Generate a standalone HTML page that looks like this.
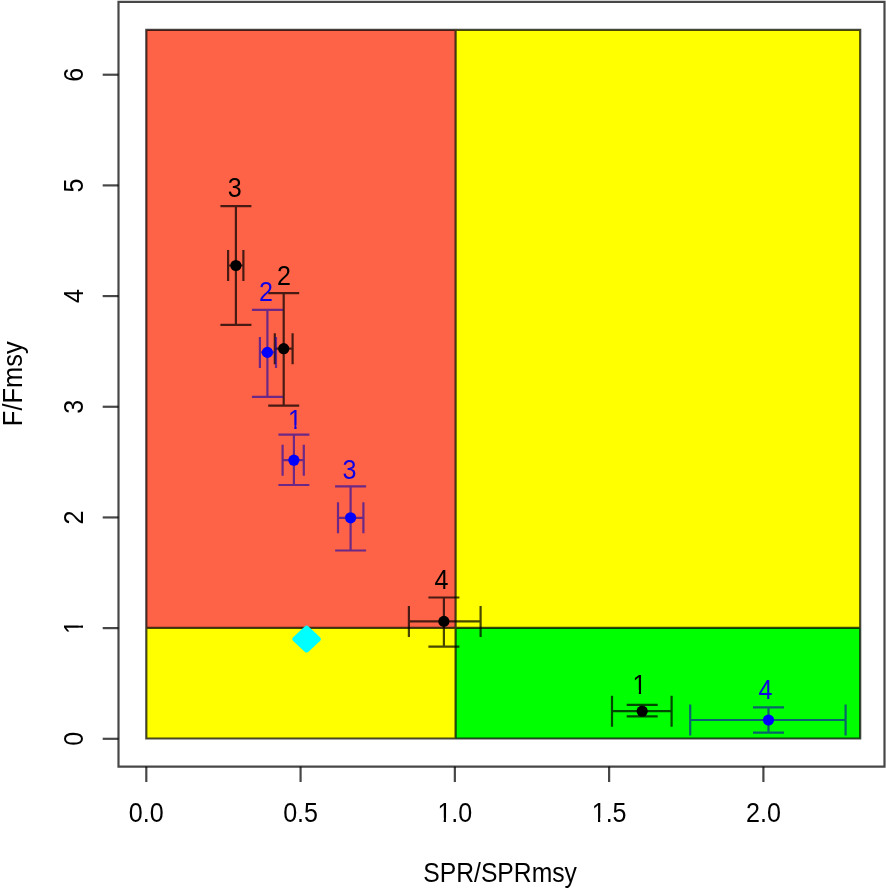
<!DOCTYPE html>
<html><head><meta charset="utf-8"><title>Kobe plot</title>
<style>
html,body{margin:0;padding:0;background:#fff;width:886px;height:888px;overflow:hidden}
svg{display:block}
text{font-family:"Liberation Sans", Arial, sans-serif;font-size:27px}
</style></head><body>
<svg width="886" height="888" viewBox="0 0 886 888">
<defs><clipPath id="c1" clipPathUnits="userSpaceOnUse"><rect x="-60" y="-60" width="120" height="56"/><rect x="-60" y="-5" width="53.28" height="30"/><rect x="7.39" y="-5" width="52.61" height="30"/><rect x="-0.72" y="-5" width="2.39" height="8"/></clipPath><clipPath id="c1x" clipPathUnits="userSpaceOnUse"><rect x="-60" y="-60" width="120" height="56"/><rect x="-60" y="-5" width="42.02" height="30"/><rect x="-3.87" y="-5" width="63.87" height="30"/><rect x="-11.98" y="-5" width="2.39" height="8"/></clipPath></defs>
<rect x="146.3" y="29.8" width="309.30" height="598.00" fill="#FF6347"/>
<rect x="455.6" y="29.8" width="404.60" height="598.00" fill="#FFFF00"/>
<rect x="146.3" y="627.8" width="309.30" height="110.70" fill="#FFFF00"/>
<rect x="455.6" y="627.8" width="404.60" height="110.70" fill="#00FF00"/>
<path d="M146.3 29.8H860.2V738.5H146.3ZM455.6 29.8V738.5M146.3 627.8H860.2" fill="none" stroke="#000" stroke-opacity="0.72" stroke-width="2.2"/>
<path d="M235.9 206.2V324.8M220.4 206.2H251.4M220.4 324.8H251.4M228.1 265.5H243.4M228.1 250.0V281.0M243.4 250.0V281.0" stroke="#000" stroke-opacity="0.72" stroke-width="2.2" fill="none"/>
<circle cx="235.9" cy="265.5" r="5.6" fill="#000"/>
<path d="M283.7 293.2V405.7M268.2 293.2H299.2M268.2 405.7H299.2M274.8 348.7H292.6M274.8 333.2V364.2M292.6 333.2V364.2" stroke="#000" stroke-opacity="0.72" stroke-width="2.2" fill="none"/>
<circle cx="283.7" cy="348.7" r="5.6" fill="#000"/>
<path d="M443.9 597.5V646.6M428.4 597.5H459.4M428.4 646.6H459.4M408.9 621.4H480.6M408.9 605.9V636.9M480.6 605.9V636.9" stroke="#000" stroke-opacity="0.72" stroke-width="2.2" fill="none"/>
<circle cx="443.9" cy="621.4" r="5.6" fill="#000"/>
<path d="M642.2 704.8V716.3M626.7 704.8H657.7M626.7 716.3H657.7M612.0 711.2H671.6M612.0 695.7V726.7M671.6 695.7V726.7" stroke="#000" stroke-opacity="0.72" stroke-width="2.2" fill="none"/>
<circle cx="642.2" cy="711.2" r="5.6" fill="#000"/>
<path d="M267.4 309.8V396.9M251.89999999999998 309.8H282.9M251.89999999999998 396.9H282.9M259.9 352.4H276.0M259.9 336.9V367.9M276.0 336.9V367.9" stroke="#1005ad" stroke-opacity="0.62" stroke-width="2.2" fill="none"/>
<circle cx="267.4" cy="352.4" r="5.6" fill="#0000FF"/>
<path d="M293.9 434.7V485.0M278.4 434.7H309.4M278.4 485.0H309.4M282.6 460.2H303.8M282.6 444.7V475.7M303.8 444.7V475.7" stroke="#1005ad" stroke-opacity="0.62" stroke-width="2.2" fill="none"/>
<circle cx="293.9" cy="460.2" r="5.6" fill="#0000FF"/>
<path d="M350.6 486.3V550.5M335.1 486.3H366.1M335.1 550.5H366.1M338.0 517.8H363.4M338.0 502.29999999999995V533.3M363.4 502.29999999999995V533.3" stroke="#1005ad" stroke-opacity="0.62" stroke-width="2.2" fill="none"/>
<circle cx="350.6" cy="517.8" r="5.6" fill="#0000FF"/>
<path d="M768.5 707.3V732.6M753.0 707.3H784.0M753.0 732.6H784.0M690.2 720.0H845.6M690.2 704.5V735.5M845.6 704.5V735.5" stroke="#1005ad" stroke-opacity="0.62" stroke-width="2.2" fill="none"/>
<circle cx="768.5" cy="720.0" r="5.6" fill="#0000FF"/>
<text transform="translate(234.8 196.7) scale(0.93 1)" fill="#000" text-anchor="middle">3</text>
<text transform="translate(283.9 285.2) scale(0.93 1)" fill="#000" text-anchor="middle">2</text>
<text transform="translate(441.5 589.2) scale(0.93 1)" fill="#000" text-anchor="middle">4</text>
<text transform="translate(639.5 694.0) scale(0.93 1)" fill="#000" text-anchor="middle" clip-path="url(#c1)">1</text>
<text transform="translate(266.0 301.3) scale(0.93 1)" fill="#1000e6" text-anchor="middle">2</text>
<text transform="translate(295.0 428.7) scale(0.93 1)" fill="#1000e6" text-anchor="middle" clip-path="url(#c1)">1</text>
<text transform="translate(349.6 478.5) scale(0.93 1)" fill="#1000e6" text-anchor="middle">3</text>
<text transform="translate(765.4 698.7) scale(0.93 1)" fill="#1000e6" text-anchor="middle">4</text>
<path d="M304.71 626.48Q306.60 624.70 308.49 626.48L320.01 637.32Q321.90 639.10 320.01 640.88L308.49 651.72Q306.60 653.50 304.71 651.72L293.19 640.88Q291.30 639.10 293.19 637.32Z" fill="#00FFFF"/>
<path d="M118.5 1.85H884.5V766.6H118.5Z" fill="none" stroke="#000" stroke-opacity="0.72" stroke-width="2.2"/>
<path d="M102.7 738.80H118.5" fill="none" stroke="#000" stroke-opacity="0.72" stroke-width="2.2"/>
<text transform="translate(82.5 738.80) rotate(-90) scale(0.93 1)" text-anchor="middle">0</text>
<path d="M102.7 628.12H118.5" fill="none" stroke="#000" stroke-opacity="0.72" stroke-width="2.2"/>
<text transform="translate(82.5 627.12) rotate(-90) scale(0.93 1)" text-anchor="middle" clip-path="url(#c1)">1</text>
<path d="M102.7 517.44H118.5" fill="none" stroke="#000" stroke-opacity="0.72" stroke-width="2.2"/>
<text transform="translate(82.5 517.44) rotate(-90) scale(0.93 1)" text-anchor="middle">2</text>
<path d="M102.7 406.76H118.5" fill="none" stroke="#000" stroke-opacity="0.72" stroke-width="2.2"/>
<text transform="translate(82.5 406.76) rotate(-90) scale(0.93 1)" text-anchor="middle">3</text>
<path d="M102.7 296.08H118.5" fill="none" stroke="#000" stroke-opacity="0.72" stroke-width="2.2"/>
<text transform="translate(82.5 296.08) rotate(-90) scale(0.93 1)" text-anchor="middle">4</text>
<path d="M102.7 185.40H118.5" fill="none" stroke="#000" stroke-opacity="0.72" stroke-width="2.2"/>
<text transform="translate(82.5 185.40) rotate(-90) scale(0.93 1)" text-anchor="middle">5</text>
<path d="M102.7 74.72H118.5" fill="none" stroke="#000" stroke-opacity="0.72" stroke-width="2.2"/>
<text transform="translate(82.5 74.72) rotate(-90) scale(0.93 1)" text-anchor="middle">6</text>
<path d="M146.30 766.6V782" fill="none" stroke="#000" stroke-opacity="0.72" stroke-width="2.2"/>
<text transform="translate(146.30 821.8) scale(0.93 1)" text-anchor="middle">0.0</text>
<path d="M300.58 766.6V782" fill="none" stroke="#000" stroke-opacity="0.72" stroke-width="2.2"/>
<text transform="translate(300.58 821.8) scale(0.93 1)" text-anchor="middle">0.5</text>
<path d="M454.85 766.6V782" fill="none" stroke="#000" stroke-opacity="0.72" stroke-width="2.2"/>
<text transform="translate(454.85 821.8) scale(0.93 1)" text-anchor="middle" clip-path="url(#c1x)">1.0</text>
<path d="M609.12 766.6V782" fill="none" stroke="#000" stroke-opacity="0.72" stroke-width="2.2"/>
<text transform="translate(609.12 821.8) scale(0.93 1)" text-anchor="middle" clip-path="url(#c1x)">1.5</text>
<path d="M763.40 766.6V782" fill="none" stroke="#000" stroke-opacity="0.72" stroke-width="2.2"/>
<text transform="translate(763.40 821.8) scale(0.93 1)" text-anchor="middle">2.0</text>
<text transform="translate(500.1 882.2) scale(0.915 1)" text-anchor="middle">SPR/SPRmsy</text>
<text transform="translate(21.7 383.75) rotate(-90) scale(0.943 1)" text-anchor="middle">F/Fmsy</text>
</svg>
</body></html>
